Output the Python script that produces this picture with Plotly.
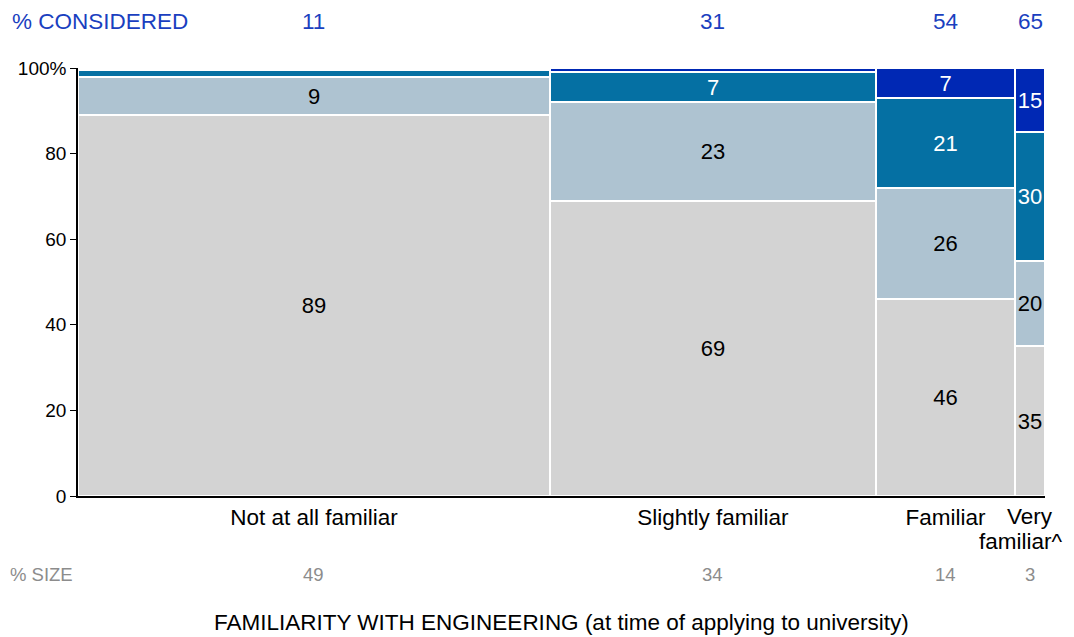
import plotly.graph_objects as go

# column categories and widths (% size)
categories = ["Not at all familiar", "Slightly familiar", "Familiar", "Very familiar^"]
size_pct = [48.8, 33.7, 14.4, 3.1]       # column widths as drawn
size_labels = [49, 34, 14, 3]            # printed % SIZE row
considered_pct = [11, 31, 54, 65]

# stacked segments, bottom to top
not_considered = [89, 69, 46, 35]
seg_light = [9, 23, 26, 20]
seg_teal = [1.5, 7, 21, 30]
seg_dark = [0.5, 1, 7, 15]

segments = [
    (not_considered, "#d3d3d3", "black"),
    (seg_light, "#aec3d1", "black"),
    (seg_teal, "#0570a3", "white"),
    (seg_dark, "#0028b4", "white"),
]

# x positions from the widths
lefts = []
acc = 0
for w in size_pct:
    lefts.append(acc)
    acc += w
centers = [l + w / 2 for l, w in zip(lefts, size_pct)]

fig = go.Figure()
for vals, color, tcolor in segments:
    fig.add_trace(go.Bar(
        x=centers,
        y=vals,
        width=size_pct,
        marker=dict(color=color, line=dict(color="white", width=2)),
        text=[str(round(v)) if v >= 3 else "" for v in vals],
        textposition="inside",
        insidetextanchor="middle",
        textangle=0,
        insidetextfont=dict(color=tcolor, size=22),
        constraintext="none",
        hoverinfo="skip",
    ))

blue = "#1a3fc0"
grey = "#8c8c8c"
ann = [dict(x=0, xref="paper", xanchor="left", xshift=-68, y=1, yref="paper",
            yshift=47, yanchor="middle", text="% CONSIDERED", showarrow=False,
            font=dict(color=blue, size=22.5))]
for c, v in zip(centers, considered_pct):
    ann.append(dict(x=c, y=1, yref="paper", yshift=47, yanchor="middle",
                    text=str(v), showarrow=False, font=dict(color=blue, size=22.5)))
ann.append(dict(x=0, xref="paper", xanchor="left", xshift=-70, y=0, yref="paper",
                yshift=-78, yanchor="middle", text="% SIZE", showarrow=False,
                font=dict(color=grey, size=18.5)))
for c, v in zip(centers, size_labels):
    ann.append(dict(x=c, y=0, yref="paper", yshift=-78, yanchor="middle",
                    text=str(v), showarrow=False, font=dict(color=grey, size=18.5)))
ann.append(dict(x=0.5, xref="paper", y=0, yref="paper", yshift=-126, yanchor="middle",
                text="FAMILIARITY WITH ENGINEERING (at time of applying to university)",
                showarrow=False, font=dict(color="black", size=22.5)))

# the last (narrow) category label is split by hand so it stays inside the page
first, second = categories[3].split(" ")
ann.append(dict(x=centers[3], y=0, yref="paper", yshift=-20, yanchor="middle",
                text=first, showarrow=False, font=dict(size=22.5)))
ann.append(dict(x=1, xref="paper", xanchor="right", xshift=20, y=0, yref="paper",
                yshift=-45, yanchor="middle", text=second, showarrow=False,
                font=dict(size=22.5)))
ticktext = categories[:3] + [""]

# page body has an 8px margin, so the figure is sized to fill the rest
fig.update_layout(
    barmode="stack",
    width=1066, height=629,
    margin=dict(l=70, r=29, t=60, b=141),
    plot_bgcolor="white", paper_bgcolor="white",
    showlegend=False,
    font=dict(family="Liberation Sans, Arial, sans-serif", color="black", size=19),
    uniformtext=dict(minsize=22, mode="show"),
    bargap=0,
    annotations=ann,
)
fig.update_xaxes(range=[0, 100], tickvals=centers, ticktext=ticktext,
                 showline=True, linecolor="black", linewidth=1.5,
                 showgrid=False, zeroline=False, ticks="", tickangle=0,
                 automargin=False, tickfont=dict(size=22.5))
fig.update_yaxes(range=[0, 100], tickvals=[0, 20, 40, 60, 80, 100],
                 ticktext=["0", "20", "40", "60", "80", "100%"],
                 showline=True, linecolor="black", linewidth=1.5,
                 ticks="outside", ticklen=6, tickcolor="black",
                 showgrid=False, zeroline=False, automargin=False,
                 tickfont=dict(size=19))

fig.write_html("out.html")
